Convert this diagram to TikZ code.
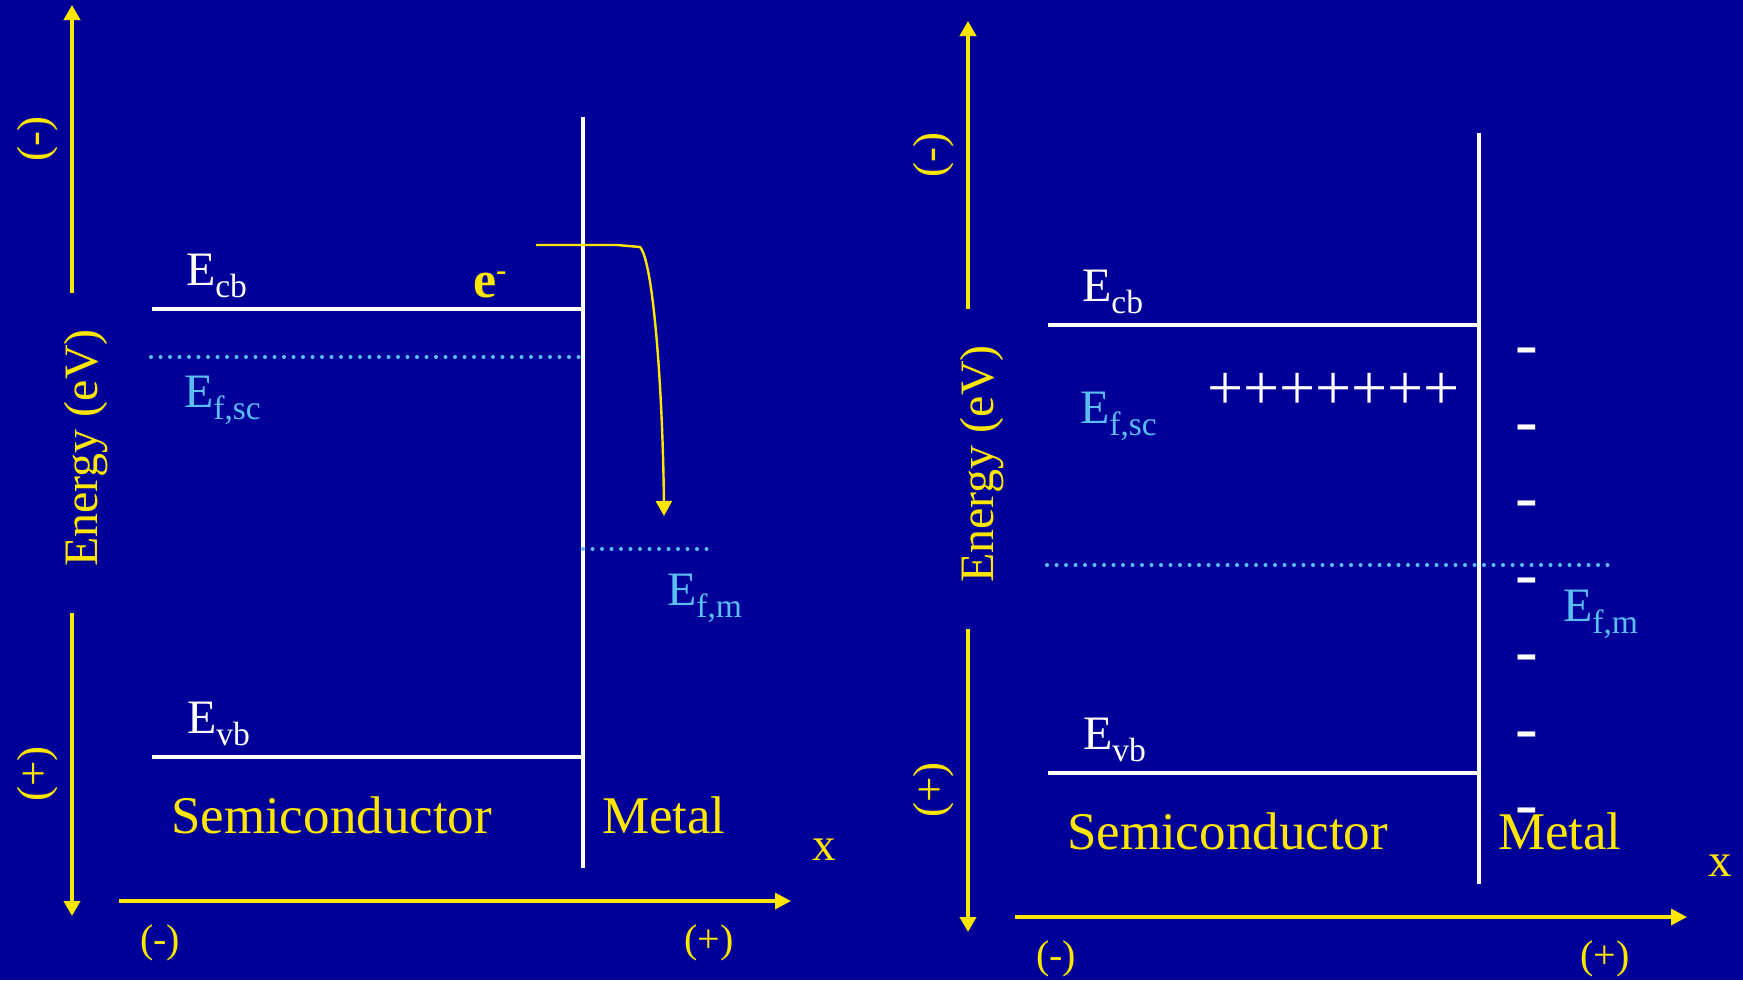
\documentclass[tikz,border=0pt]{standalone}
\usepackage{fontspec}
\setmainfont{Liberation Serif}
\usetikzlibrary{arrows.meta}
\definecolor{bgblue}{RGB}{0,0,153}
\definecolor{ayellow}{RGB}{255,230,0}
\definecolor{fblue}{RGB}{90,190,245}
\newcommand\fs[1]{\fontsize{#1}{#1}\selectfont}
\newcommand\Esub[1]{E\raisebox{-6.2pt}{\fs{16.8pt}#1}}
\tikzset{
  txt/.style={inner sep=0pt, outer sep=0pt, anchor=base west},
  lvl/.style={draw=white, line width=1.7pt},
  iface/.style={draw=white, line width=1.9pt},
  axis/.style={draw=ayellow, line width=2pt, -{Triangle[width=8pt,length=7.5pt]}},
  xaxis/.style={draw=ayellow, line width=1.7pt, -{Triangle[width=8pt,length=8pt]}},
  fermi/.style={draw=fblue, line width=2pt, line cap=round, dash pattern=on 0pt off 4.75pt},
  vlab/.style={inner sep=0pt, outer sep=0pt, anchor=base, rotate=90, text=ayellow},
  lev/.style={txt, text=white, font=\fs{24pt}},
  flev/.style={txt, text=fblue, font=\fs{24pt}},
  big/.style={txt, text=ayellow, font=\fs{26.5pt}},
  minus/.style={txt, text=white, font=\fs{34pt}}
}
\newcommand\panel[1]{%
  \coordinate (#1uaB) at (72,293); \coordinate (#1uaT) at (72,5);
  \coordinate (#1laT) at (72,613); \coordinate (#1laB) at (72,916);
  \draw[axis] (#1uaB) -- (#1uaT);
  \draw[axis] (#1laT) -- (#1laB);
  \node[vlab, font=\fs{22.5pt}] (#1neg) at (48,139) {(-)};
  \node[vlab, font=\fs{22.5pt}] (#1pos) at (48,774) {(+)};
  \node[vlab, font=\fs{24pt}] (#1energy) at (97,448) {Energy (eV)};
  \coordinate (#1cbL) at (152,309); \coordinate (#1cbR) at (583,309);
  \coordinate (#1vbL) at (152,757); \coordinate (#1vbR) at (583,757);
  \coordinate (#1ifT) at (583,117); \coordinate (#1ifB) at (583,868);
  \draw[lvl] (#1cbL) -- (#1cbR);
  \draw[lvl] (#1vbL) -- (#1vbR);
  \draw[iface] (#1ifT) -- (#1ifB);
  \coordinate (#1xL) at (119,901); \coordinate (#1xR) at (791,901);
  \draw[xaxis] (#1xL) -- (#1xR);
  \node[lev] (#1Ecb) at (186,285) {\Esub{cb}};
  \node[lev] (#1Evb) at (187,733) {\Esub{vb}};
  \node[flev] (#1Efsc) at (184,407) {\Esub{f,sc}};
  \node[flev] (#1Efm) at (667,605) {\Esub{f,m}};
  \node[big] (#1semi) at (171,833) {Semiconductor};
  \node[big] (#1metal) at (602,833) {Metal};
  \node[txt, text=ayellow, font=\fs{23.5pt}] (#1x) at (812,860) {x};
  \node[inner sep=0pt, anchor=base, text=ayellow, font=\fs{20pt}] (#1xneg) at (160,952) {(-)};
  \node[inner sep=0pt, anchor=base, text=ayellow, font=\fs{20pt}] (#1xpos) at (709,952) {(+)};
}
\begin{document}
\begin{tikzpicture}[x=0.5pt,y=-0.5pt]
\useasboundingbox (0,0) rectangle (1743,980);
\fill[bgblue] (0,0) rectangle (1743,980);
% left panel
\panel{L}
\coordinate (Lfscl) at (151,357); \coordinate (Lfscr) at (580,357);
\draw[fermi] (Lfscl) -- (Lfscr);
\coordinate (Lfml) at (583,549); \coordinate (Lfmr) at (712,549);
\draw[fermi] (Lfml) -- (Lfmr);
\node[txt, text=ayellow, font=\fs{26pt}\bfseries] (elec) at (473,297) {e\raisebox{8.25pt}{\fs{15.5pt}-}};
\coordinate (es) at (536,245); \coordinate (e1) at (617,245); \coordinate (e2) at (640,247);
\coordinate (ee) at (664,516);
\draw[draw=ayellow, line width=1.2pt, -{Triangle[width=8pt,length=7.5pt]}]
  (es) -- (e1) -- (e2) .. controls (654,262) and (663,400) .. (ee);
% right panel
\begin{scope}[shift={(896,16)}]
\panel{R}
\end{scope}
\coordinate (Rfl) at (1047,565); \coordinate (Rfr) at (1612,565);
\draw[fermi] (Rfl) -- (Rfr);
\node[txt, text=white, font=\fs{32pt}] (plus) at (1207,409.5) {+++++++};
\foreach \k in {0,...,6} {
  \node[minus] (dash\k) at (1515.3,{366.5+76.7*\k}) {-};
}
\end{tikzpicture}
\end{document}
